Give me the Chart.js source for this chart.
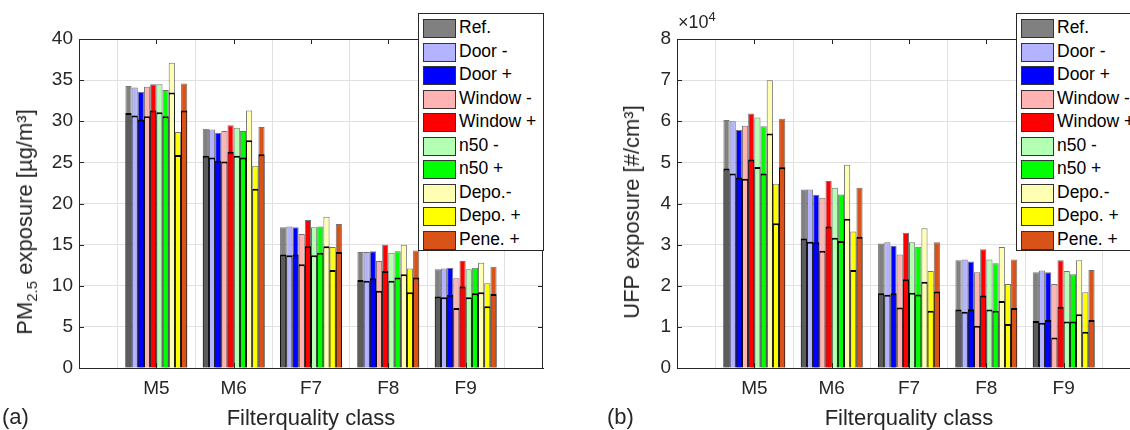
<!DOCTYPE html>
<html>
<head>
<meta charset="utf-8">
<script src="https://cdn.jsdelivr.net/npm/chart.js@4.4.1/dist/chart.umd.min.js"></script>
<style>
body { margin:0; width:1130px; height:430px; overflow:hidden; background:#fff; position:relative;
       font-family:"Liberation Sans", Arial, sans-serif; color:#262626; }
.panel { position:absolute; top:0; width:565px; height:430px; }
.panel canvas { position:absolute; left:0; top:0; }
.ytitle { position:absolute; transform:translate(-50%,-50%) rotate(-90deg); white-space:nowrap; font-size:22px; }
.ytitle sub { font-size:15px; vertical-align:-5px; line-height:0; }
.xtitle { position:absolute; left:311px; top:418px; transform:translate(-50%,-50%); white-space:nowrap; font-size:22px; }
.tag { position:absolute; top:404px; font-size:22px; }
.exp { position:absolute; left:80px; top:12px; font-size:18px; white-space:nowrap; }
.exp sup { font-size:13px; vertical-align:7px; line-height:0; }
.legend { position:absolute; left:418px; top:13px; width:124px; height:236px; border:1px solid #262626; background:#fff; }
.legend .row { position:absolute; left:4px; height:19px; white-space:nowrap; }
.legend .sw { position:absolute; left:0; top:0; width:31px; height:17px; border:1px solid #333; }
.legend .lb { position:absolute; left:36px; top:-2px; font-size:17.5px; line-height:21px; color:#000; }
</style>
</head>
<body>
<div class="panel" style="left:0">
  <canvas id="chartPM" width="565" height="430"></canvas>
  <div class="ytitle" style="left:25px; top:222px">PM<sub>2.5</sub> exposure [µg/m³]</div>
  <div class="xtitle">Filterquality class</div>
  <div class="legend" id="legPM"></div>
</div>
<div class="panel" style="left:598px">
  <canvas id="chartUFP" width="565" height="430"></canvas>
  <div class="ytitle" style="left:34px; top:212px">UFP exposure [#/cm³]</div>
  <div class="xtitle">Filterquality class</div>
  <div class="exp">×10<sup>4</sup></div>
  <div class="legend" id="legUFP"></div>
</div>
<div class="tag" style="left:2px">(a)</div>
<div class="tag" style="left:607px">(b)</div>

<script>
var categories = ['M5', 'M6', 'F7', 'F8', 'F9']
var seriesNames = ['Ref.', 'Door -', 'Door +', 'Window -', 'Window +', 'n50 -', 'n50 +', 'Depo.-', 'Depo. +', 'Pene. +']
var seriesColors = ['#808080', '#b3b3ff', '#0000ff', '#ffb3b3', '#ff0000', '#b3ffb3', '#00ff00', '#ffffb3', '#ffff00', '#d95319']
var lowerColors = ['#5c5c5c', '#b3b3ff', '#0000ff', '#ffb3b3', '#ff0000', '#b3ffb3', '#00ff00', '#ffffb3', '#ffff00', '#d95319']

// PM2.5, one row per scenario, columns M5..F9
var pmHigh = [
    [34.3, 29.1, 17.1, 14.1, 12.0],
    [34.1, 29.0, 17.2, 14.1, 12.1],
    [33.6, 28.6, 17.1, 14.2, 12.2],
    [34.2, 28.8, 16.3, 13.0, 10.9],
    [34.5, 29.5, 18.0, 15.0, 13.0],
    [34.5, 29.2, 17.1, 14.0, 12.0],
    [33.8, 28.8, 17.2, 14.2, 12.2],
    [37.1, 31.3, 18.4, 15.0, 12.8],
    [28.7, 24.6, 14.7, 12.1, 10.3],
    [34.6, 29.3, 17.5, 14.3, 12.3]
]
var pmLow = [
    [31.0, 25.8, 13.8, 10.7, 8.7],
    [30.7, 25.6, 13.7, 10.6, 8.6],
    [30.2, 25.2, 13.8, 10.9, 8.9],
    [30.6, 25.1, 12.6, 9.4, 7.3],
    [31.3, 26.3, 14.8, 11.8, 9.9],
    [31.1, 25.8, 13.7, 10.6, 8.6],
    [30.6, 25.6, 14.0, 11.0, 9.1],
    [33.5, 27.7, 14.8, 11.4, 9.2],
    [25.9, 21.8, 11.9, 9.2, 7.5],
    [31.3, 26.0, 14.1, 11.0, 9.0]
]
// UFP in #/cm3
var ufpHigh = [
    [60300, 43400, 30300, 26200, 23300],
    [60000, 43400, 30600, 26400, 23700],
    [57900, 42100, 29700, 25900, 23300],
    [58900, 41400, 27600, 23300, 20400],
    [61900, 45500, 32900, 28900, 26200],
    [60900, 43800, 30600, 26400, 23600],
    [58800, 42200, 29500, 25500, 22800],
    [70000, 49400, 34000, 29400, 26200],
    [44800, 33200, 23600, 20400, 18400],
    [60600, 43800, 30600, 26400, 23800]
]
var ufpLow = [
    [48500, 31500, 18200, 14200, 11400],
    [47300, 30700, 17800, 13700, 11000],
    [46300, 30600, 18200, 14300, 11700],
    [46000, 28500, 14700, 10300, 7400],
    [50700, 34400, 21600, 17600, 14900],
    [48900, 31700, 18300, 14200, 11300],
    [47300, 30900, 17900, 13900, 11300],
    [57000, 36300, 21000, 16300, 13100],
    [35200, 23800, 13900, 10700, 8800],
    [48800, 31900, 18600, 14600, 11700]
]

var fontFam = '"Liberation Sans", Arial, sans-serif'
var axisColor = '#262626'
var gridColor = '#e1e1e1'

// frame on top/right plus small inward ticks, like the original axes box
const boxPlugin = {
    id: 'box',
    afterDraw(chart) {
        let ctx = chart.ctx
        let a = chart.chartArea
        let ys = chart.scales.y
        let xs = chart.scales.x
        ctx.save()
        ctx.strokeStyle = axisColor
        ctx.lineWidth = 1
        ctx.beginPath()
        ctx.moveTo(a.left, a.top + 0.5)
        ctx.lineTo(a.right, a.top + 0.5)
        ctx.moveTo(a.right - 0.5, a.top)
        ctx.lineTo(a.right - 0.5, a.bottom)
        ys.ticks.forEach((t) => {
            let py = Math.round(ys.getPixelForValue(t.value)) + 0.5
            ctx.moveTo(a.left, py); ctx.lineTo(a.left + 5, py)
            ctx.moveTo(a.right, py); ctx.lineTo(a.right - 5, py)
        })
        for (let i = 1; i <= categories.length; i++) {
            let px = Math.round(xs.getPixelForValue(i)) + 0.5
            ctx.moveTo(px, a.top); ctx.lineTo(px, a.top + 5)
            ctx.moveTo(px, a.bottom); ctx.lineTo(px, a.bottom - 5)
        }
        ctx.stroke()
        ctx.restore()
    }
}

function padded(arr) {
    return [null].concat(arr, [null])
}

function drawChart(canvasId, high, low, yMax, yStep, tickFmt) {
    let datasets = []
    // lower values first so they sit on top of the total bars
    seriesNames.forEach((name, s) => {
        datasets.push({
            label: name + ' low',
            data: padded(low[s]),
            backgroundColor: lowerColors[s],
            borderColor: '#000',
            borderWidth: {top: 2, left: 1, right: 1, bottom: 0},
            stack: 's' + s
        })
    })
    seriesNames.forEach((name, s) => {
        datasets.push({
            label: name,
            data: padded(high[s]),
            backgroundColor: seriesColors[s],
            borderColor: 'rgba(0,0,0,0.55)',
            borderWidth: 1,
            stack: 's' + s
        })
    })
    return new Chart(document.getElementById(canvasId).getContext('2d'), {
        type: 'bar',
        data: {
            labels: [''].concat(categories, ['']),
            datasets: datasets
        },
        options: {
            responsive: false,
            animation: false,
            categoryPercentage: 0.8,
            barPercentage: 1.0,
            layout: {padding: {left: 0, top: 39, right: 22, bottom: 0}},
            plugins: {legend: {display: false}, tooltip: {enabled: false}},
            scales: {
                x: {
                    type: 'category',
                    offset: false,
                    stacked: true,
                    grid: {color: gridColor, drawTicks: false},
                    border: {color: axisColor, width: 1},
                    ticks: {font: {size: 19, family: fontFam}, color: axisColor, padding: 9, maxRotation: 0, autoSkip: false},
                    afterFit: (s) => { s.height = 62 }
                },
                y: {
                    min: 0,
                    max: yMax,
                    stacked: false,
                    grid: {color: gridColor, drawTicks: false},
                    border: {color: axisColor, width: 1},
                    ticks: {stepSize: yStep, font: {size: 19, family: fontFam}, color: axisColor, padding: 6, callback: tickFmt},
                    afterFit: (s) => { s.width = 79 }
                }
            }
        },
        plugins: [boxPlugin]
    })
}

function drawLegend(divId) {
    let box = document.getElementById(divId)
    seriesNames.forEach((name, s) => {
        let row = document.createElement('div')
        row.className = 'row'
        row.style.top = (5 + s * 23.5) + 'px'
        row.innerHTML = '<div class="sw" style="background:' + seriesColors[s] + '"></div><div class="lb">' + name + '</div>'
        box.appendChild(row)
    })
}

drawChart('chartPM', pmHigh, pmLow, 40, 5, (v) => v)
drawChart('chartUFP', ufpHigh, ufpLow, 80000, 10000, (v) => v / 10000)
drawLegend('legPM')
drawLegend('legUFP')
</script>
</body>
</html>
